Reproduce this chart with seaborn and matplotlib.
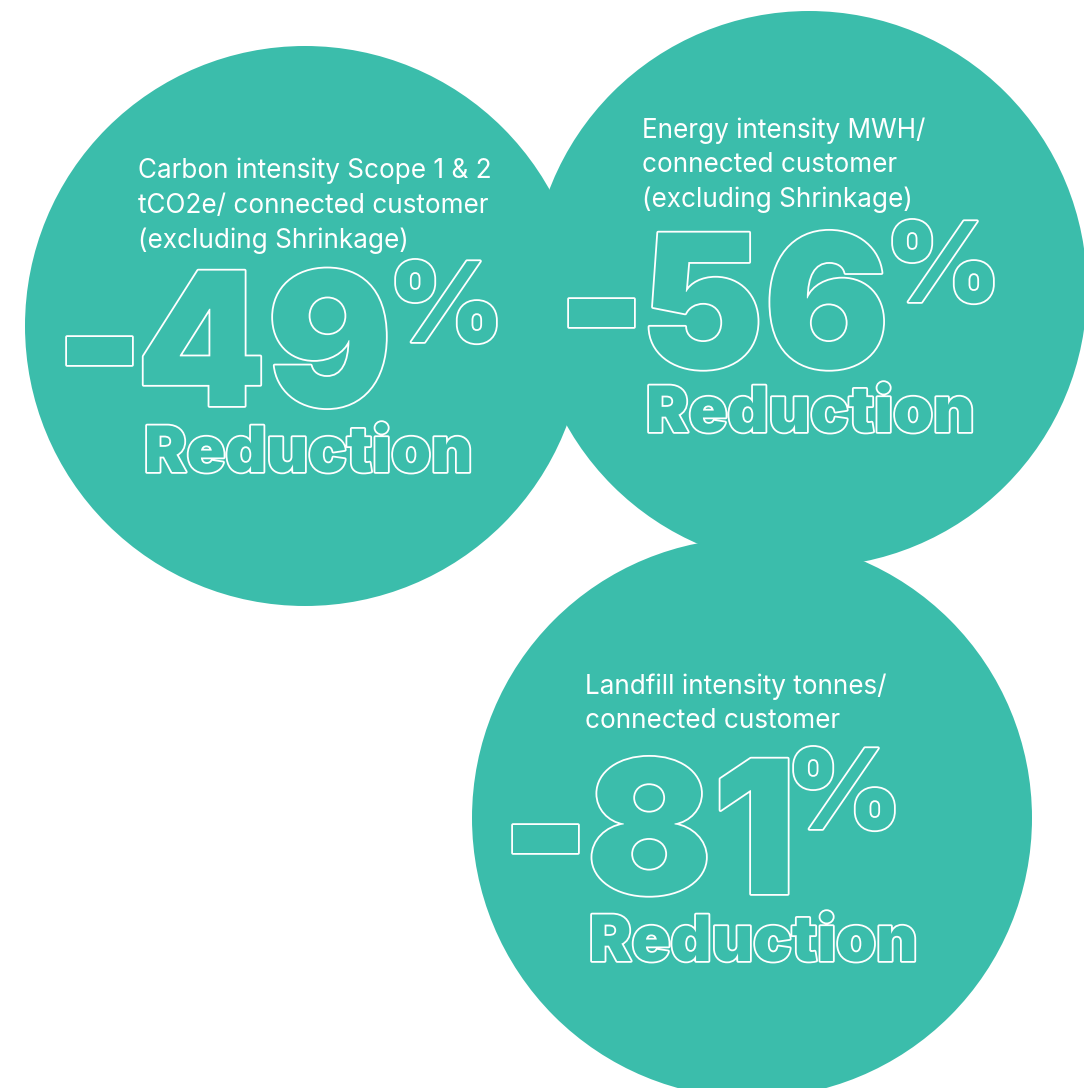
import matplotlib
matplotlib.use("Agg")
import matplotlib.pyplot as plt
import matplotlib.patheffects as pe
import pandas as pd
import seaborn as sns

# ---- content -------------------------------------------------------------
metrics = [
    "Carbon intensity Scope 1 & 2\ntCO2e/ connected customer\n(excluding Shrinkage)",
    "Energy intensity MWH/\nconnected customer\n(excluding Shrinkage)",
    "Landfill intensity tonnes/\nconnected customer",
]
reductions = [49, 56, 81]          # percent reduction
caption = "Reduction"

# ---- layout (pixel coordinates, y grows downward) -------------------------
centers_x = [305, 809, 752]
centers_y = [326, 289, 818]
radius = [280, 278, 280]
title_xy = [(138, 177), (642, 136), (585, 692)]      # left, first baseline
minus_x = [66, 568, 512]                             # left edge of the sign
digits_x = [142, 646, 592]                           # left edge of digits
number_y = [406, 368, 894]                           # baseline
pct_xy = [(395, 342), (892, 302), (793, 829)]        # left, baseline
caption_xy = [(145, 472), (647, 432), (590, 961)]    # left, baseline

TEAL = "#3BBDAB"
W, H, DPI = 1084, 1088, 100

sns.set_theme(style="white")
plt.rcParams["font.family"] = ["Inter", "DejaVu Sans"]

fig = plt.figure(figsize=(W / DPI, H / DPI), dpi=DPI)
ax = fig.add_axes([0, 0, 1, 1])
ax.set_xlim(0, W)
ax.set_ylim(H, 0)
ax.axis("off")

# circles: marker size is the diameter in points
df = pd.DataFrame({
    "x": centers_x,
    "y": centers_y,
    "s": [(2 * r * 72 / DPI) ** 2 for r in radius],
})
sns.scatterplot(data=df, x="x", y="y", s=df["s"].tolist(), color=TEAL,
                linewidth=0, marker="o", legend=False, ax=ax, zorder=1,
                clip_on=False)

outline = [pe.withStroke(linewidth=2.6, foreground="white")]
big = dict(family=["Inter", "DejaVu Sans"], weight=900, color=TEAL,
           path_effects=outline, zorder=3, ha="left", va="baseline")

for i, val in enumerate(reductions):
    tx, ty = title_xy[i]
    ax.text(tx, ty - 19, metrics[i], color="white", fontsize=18.8,
            ha="left", va="top", linespacing=1.43, zorder=3)
    ny = number_y[i]
    ax.text(minus_x[i] - 12, ny, "-", fontsize=137, **big)
    ax.text(digits_x[i] - 6, ny, f"{val}", fontsize=134, **big)
    px, py = pct_xy[i]
    ax.text(px - 7, py, "%", fontsize=80, **big)
    cx, cy = caption_xy[i]
    ax.text(cx - 1, cy, caption, fontsize=46, **big)

fig.savefig("out.png", dpi=DPI, facecolor="white")
